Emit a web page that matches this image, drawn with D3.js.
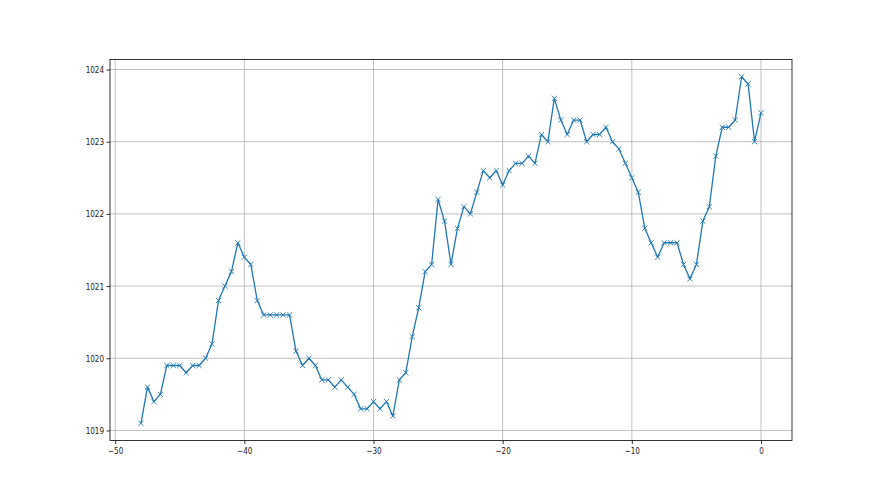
<!DOCTYPE html>
<html>
<head>
<meta charset="utf-8">
<script src="https://cdn.jsdelivr.net/npm/d3@7"></script>
<style>
  html, body { margin: 0; padding: 0; background: #ffffff; }
  svg { display: block; }
  text { font-family: "DejaVu Sans", sans-serif; }
</style>
</head>
<body>
<svg id="chart" width="880" height="495"></svg>
<script>
// Time offsets (x) and pressure readings (y)
const times = d3.range(-48, 0.001, 0.5);
const values = [
  1019.1, 1019.6, 1019.4, 1019.5, 1019.9, 1019.9, 1019.9, 1019.8, 1019.9, 1019.9,
  1020.0, 1020.2, 1020.8, 1021.0, 1021.2, 1021.6, 1021.4, 1021.3, 1020.8, 1020.6,
  1020.6, 1020.6, 1020.6, 1020.6, 1020.1, 1019.9, 1020.0, 1019.9, 1019.7, 1019.7,
  1019.6, 1019.7, 1019.6, 1019.5, 1019.3, 1019.3, 1019.4, 1019.3, 1019.4, 1019.2,
  1019.7, 1019.8, 1020.3, 1020.7, 1021.2, 1021.3, 1022.2, 1021.9, 1021.3, 1021.8,
  1022.1, 1022.0, 1022.3, 1022.6, 1022.5, 1022.6, 1022.4, 1022.6, 1022.7, 1022.7,
  1022.8, 1022.7, 1023.1, 1023.0, 1023.6, 1023.3, 1023.1, 1023.3, 1023.3, 1023.0,
  1023.1, 1023.1, 1023.2, 1023.0, 1022.9, 1022.7, 1022.5, 1022.3, 1021.8, 1021.6,
  1021.4, 1021.6, 1021.6, 1021.6, 1021.3, 1021.1, 1021.3, 1021.9, 1022.1, 1022.8,
  1023.2, 1023.2, 1023.3, 1023.9, 1023.8, 1023.0, 1023.4
];
const xTicks = [-50, -40, -30, -20, -10, 0];
const yTicks = [1019, 1020, 1021, 1022, 1023, 1024];

const data = times.map((t, i) => ({ x: t, y: values[i] }));

const W = 880, H = 495;
const pLeft = W * 0.125, pRight = W * 0.9, pTop = H * 0.12, pBottom = H * 0.89;

const xMin = d3.min(times), xMax = d3.max(times);
const yMin = d3.min(values), yMax = d3.max(values);
const xPad = (xMax - xMin) * 0.05, yPad = (yMax - yMin) * 0.05;

const x = d3.scaleLinear().domain([xMin - xPad, xMax + xPad]).range([pLeft, pRight]);
const y = d3.scaleLinear().domain([yMin - yPad, yMax + yPad]).range([pBottom, pTop]);

const svg = d3.select("#chart");
svg.append("rect").attr("width", W).attr("height", H).attr("fill", "#fff");

const fmt = d => (d < 0 ? "\u2212" + Math.abs(d) : String(d));

// Grid
const grid = svg.append("g");
grid.selectAll("line.vx").data(xTicks).enter().append("line")
  .attr("x1", d => x(d)).attr("x2", d => x(d))
  .attr("y1", pTop).attr("y2", pBottom)
  .attr("stroke", "#b0b0b0").attr("stroke-width", 0.8);
grid.selectAll("line.hy").data(yTicks).enter().append("line")
  .attr("x1", pLeft).attr("x2", pRight)
  .attr("y1", d => y(d)).attr("y2", d => y(d))
  .attr("stroke", "#b0b0b0").attr("stroke-width", 0.8);

// Line
const line = d3.line().x(d => x(d.x)).y(d => y(d.y));
svg.append("path").datum(data)
  .attr("d", line)
  .attr("fill", "none")
  .attr("stroke", "#1f77b4")
  .attr("stroke-width", 1.3)
  .attr("stroke-linejoin", "round");

// Markers 'x'
const m = 2.6;
const marks = svg.append("g").attr("stroke", "#1f77b4").attr("stroke-width", 0.9);
marks.selectAll("path").data(data).enter().append("path")
  .attr("d", d => {
    const cx = x(d.x), cy = y(d.y);
    return `M${cx - m},${cy - m}L${cx + m},${cy + m}M${cx - m},${cy + m}L${cx + m},${cy - m}`;
  });

// Axes
const xAxis = d3.axisBottom(x).tickValues(xTicks).tickFormat(fmt).tickSizeOuter(0).tickSize(3.5).tickPadding(3);
const yAxis = d3.axisLeft(y).tickValues(yTicks).tickFormat(d => String(d)).tickSizeOuter(0).tickSize(3.5).tickPadding(2.5);

const gx = svg.append("g").attr("transform", `translate(0,${pBottom})`).call(xAxis);
const gy = svg.append("g").attr("transform", `translate(${pLeft},0)`).call(yAxis);
[gx, gy].forEach(g => {
  g.select(".domain").remove();
  g.selectAll(".tick line").attr("stroke", "#000").attr("stroke-width", 0.8);
  g.selectAll(".tick text")
    .attr("fill", "#1a1a1a")
    .style("font-size", "9.4px")
    .style("font-family", "'DejaVu Sans', sans-serif")
    .each(function () {
      const len = this.getComputedTextLength();
      d3.select(this).attr("textLength", len * 0.77).attr("lengthAdjust", "spacingAndGlyphs");
    });
});

// Spines
svg.append("rect")
  .attr("x", pLeft).attr("y", pTop)
  .attr("width", pRight - pLeft).attr("height", pBottom - pTop)
  .attr("fill", "none").attr("stroke", "#000").attr("stroke-width", 0.8);
</script>
</body>
</html>
